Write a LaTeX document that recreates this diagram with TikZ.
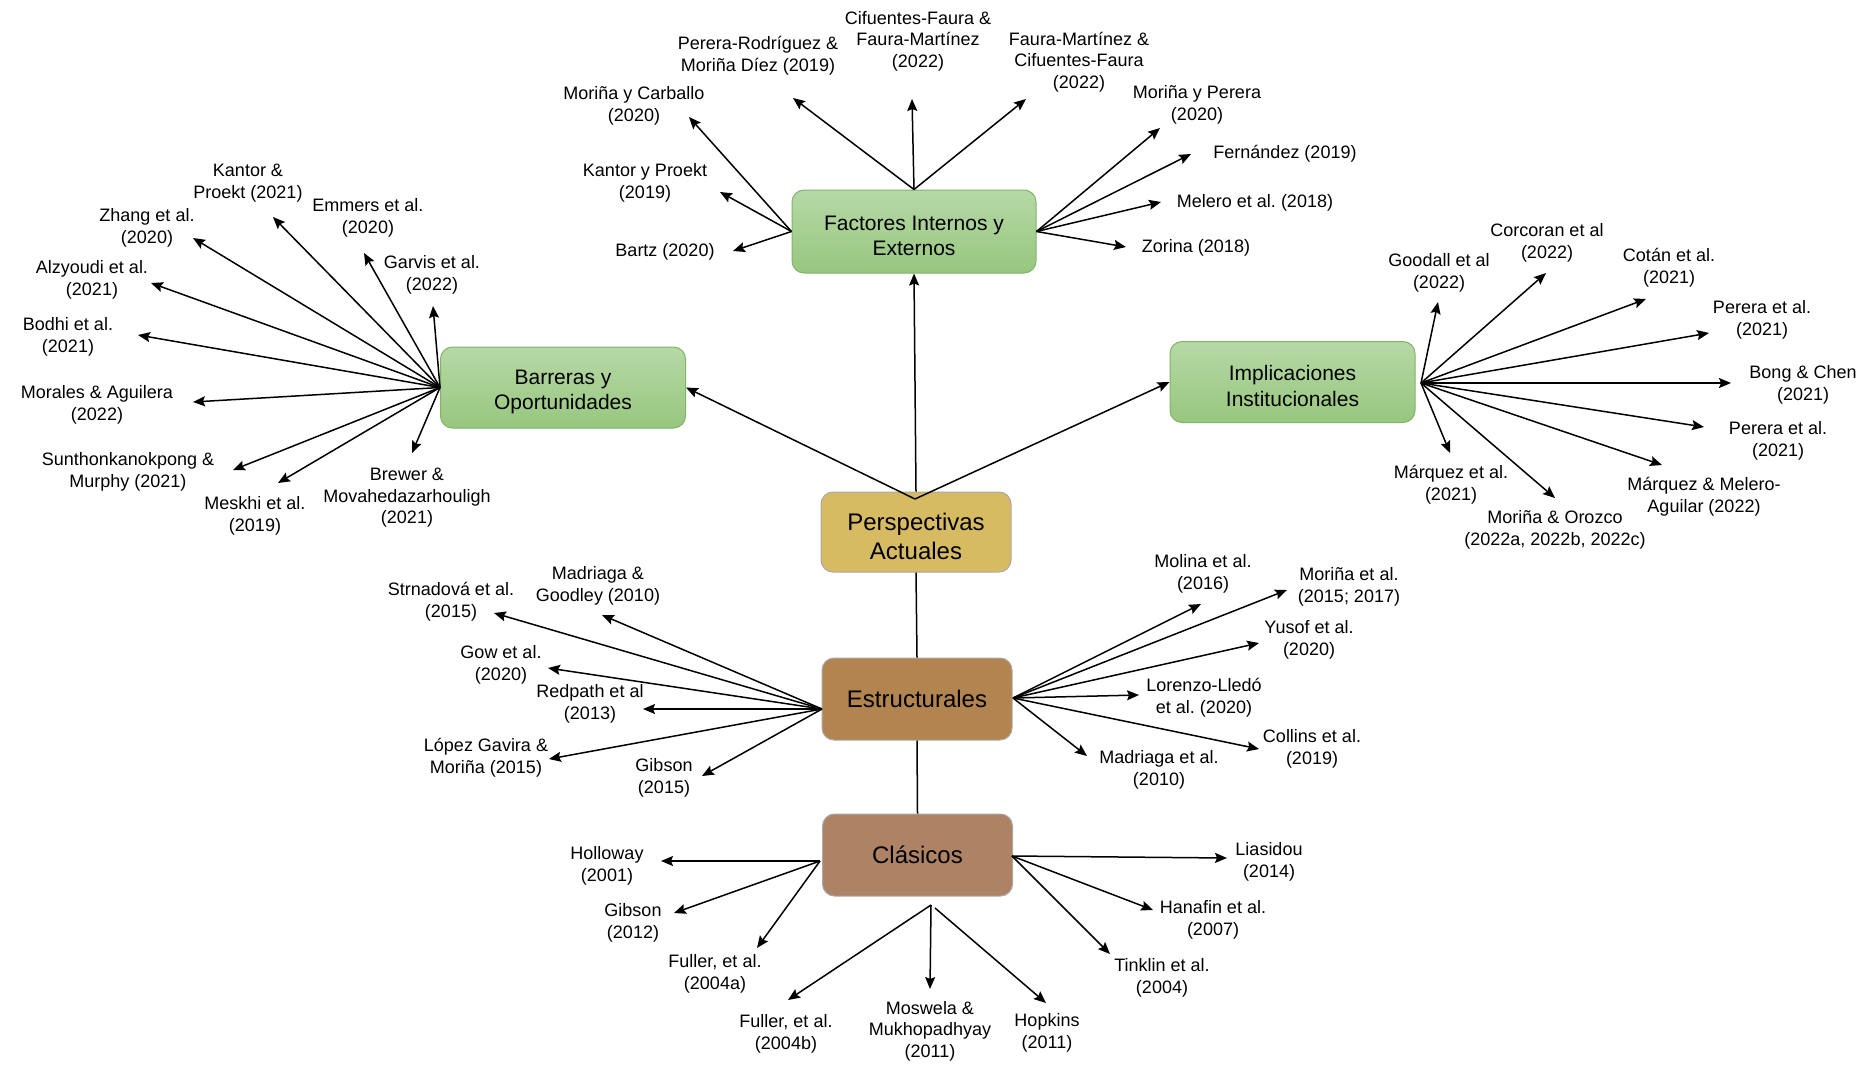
\documentclass[tikz,border=0pt]{standalone}
\usepackage{fontspec}
\setmainfont{Liberation Sans}
\usetikzlibrary{arrows.meta}
\definecolor{gtop}{HTML}{B6D8A6}
\definecolor{gbot}{HTML}{97C77E}
\definecolor{gline}{HTML}{82B366}
\definecolor{cper}{HTML}{D7BB63}
\definecolor{cest}{HTML}{B2844F}
\definecolor{ccla}{HTML}{AD8265}
\definecolor{gborder}{HTML}{A8A8A8}
\newcommand{\gstrut}{\rule{0pt}{23pt}}
\newcommand{\pstrut}{\rule{0pt}{26.5pt}}
\tikzset{
  lbl/.style={align=center, font=\fontsize{18}{21.6}\selectfont\frenchspacing, inner sep=0pt},
  arr/.style={-{Stealth[length=12pt,width=10pt,inset=2pt]}, line width=1.5pt},
  ln/.style={line width=1.5pt},
  mainbox/.style={rounded corners=12pt, line width=1pt, align=center, inner sep=0pt},
  greenbox/.style={mainbox, draw=gline, top color=gtop, bottom color=gbot,
    minimum width=245pt, minimum height=81pt, font=\fontsize{21}{25.5}\selectfont},
  brownbox/.style={mainbox, draw=gborder, minimum width=190pt, minimum height=82pt,
    font=\fontsize{24}{28.8}\selectfont},
}
\begin{document}
\frenchspacing
\begin{tikzpicture}[x=1pt,y=-1pt]
\useasboundingbox (0,0) rectangle (1876,1074);
\fill[white] (0,0) rectangle (1876,1074);

% main boxes
\node[greenbox, minimum width=244pt, minimum height=83pt] (fac) at (914,231.5) {\gstrut Factores Internos y\\Externos};
\node[greenbox] (bar) at (563,387.5) {\gstrut Barreras y\\Oportunidades};
\node[greenbox] (imp) at (1292.5,382) {\gstrut Implicaciones\\Institucionales};
\node[brownbox, fill=cper, minimum height=80pt] (per) at (916,532) {\pstrut Perspectivas\\Actuales};
\node[brownbox, fill=cest] (est) at (917,699) {Estructurales};
\node[brownbox, fill=ccla] (cla) at (917.5,855) {Clásicos};

% origin coordinates
\coordinate (perV) at (915,499);
\coordinate (impR) at (1421,383);
\coordinate (estL) at (822,709);
\coordinate (estR) at (1013,698);
\coordinate (claL) at (820,861);
\coordinate (claR) at (1012,856);
\coordinate (claB) at (931,905);
\coordinate (claB2) at (935,908);

% main connectors
\draw[arr] (per.north) -- (fac.south);
\draw[arr] (perV) -- (bar.east);
\draw[arr] (perV) -- (imp.west);
\draw[ln] (per.south) -- (est.north);
\draw[ln] (est.south) -- (cla.north);

% ---------- Factores ----------
\node[lbl] (fa1) at (665,252) {Bartz (2020)};
\node[lbl] (fa2) at (645,183) {Kantor y Proekt\\(2019)};
\node[lbl] (fa3) at (634,106) {Moriña y Carballo\\(2020)};
\node[lbl] (fa4) at (758,56) {Perera-Rodríguez \&\\Moriña Díez (2019)};
\node[lbl] (fa5) at (918,41) {Cifuentes-Faura \&\\Faura-Martínez\\(2022)};
\node[lbl] (fa6) at (1079,62) {Faura-Martínez \&\\Cifuentes-Faura\\(2022)};
\node[lbl] (fa7) at (1197,105) {Moriña y Perera\\(2020)};
\node[lbl] (fa8) at (1285,154) {Fernández (2019)};
\node[lbl] (fa9) at (1255,203) {Melero et al. (2018)};
\node[lbl] (fa10) at (1196,248) {Zorina (2018)};
\coordinate (tfa1) at (733,251);
\coordinate (tfa2) at (720,192);
\coordinate (tfa3) at (689,117);
\coordinate (tfa4) at (793,98);
\coordinate (tfa5) at (912,99);
\coordinate (tfa6) at (1026,99);
\coordinate (tfa7) at (1160,128);
\coordinate (tfa8) at (1191,154);
\coordinate (tfa9) at (1161,202);
\coordinate (tfa10) at (1126,247);
\foreach \t in {tfa1,tfa2,tfa3} \draw[arr] (fac.west) -- (\t);
\foreach \t in {tfa4,tfa5,tfa6} \draw[arr] (fac.north) -- (\t);
\foreach \t in {tfa7,tfa8,tfa9,tfa10} \draw[arr] (fac.east) -- (\t);

% ---------- Barreras ----------
\node[lbl] (ba1) at (248,183) {Kantor \&\\Proekt (2021)};
\node[lbl] (ba2) at (147,228) {Zhang et al.\\(2020)};
\node[lbl] (ba3) at (368,218) {Emmers et al.\\(2020)};
\node[lbl] (ba4) at (432,275) {Garvis et al.\\(2022)};
\node[lbl] (ba5) at (92,280) {Alzyoudi et al.\\(2021)};
\node[lbl] (ba6) at (68,337) {Bodhi et al.\\(2021)};
\node[lbl] (ba7) at (97,405) {Morales \& Aguilera\\(2022)};
\node[lbl] (ba8) at (128,472) {Sunthonkanokpong \&\\Murphy (2021)};
\node[lbl] (ba9) at (255,516) {Meskhi et al.\\(2019)};
\node[lbl] (ba10) at (407,498) {Brewer \&\\Movahedazarhouligh\\(2021)};
\coordinate (tba1) at (273,217);
\coordinate (tba2) at (193,238);
\coordinate (tba3) at (364,253);
\coordinate (tba4) at (433,306);
\coordinate (tba5) at (151,283);
\coordinate (tba6) at (138,335);
\coordinate (tba7) at (193,402);
\coordinate (tba8) at (233,470);
\coordinate (tba9) at (278,483);
\coordinate (tba10) at (412,453);
\foreach \t in {tba1,tba2,tba3,tba4,tba5,tba6,tba7,tba8,tba9,tba10} \draw[arr] (bar.west) -- (\t);

% ---------- Implicaciones ----------
\node[lbl] (im1) at (1439,273) {Goodall et al\\(2022)};
\node[lbl] (im2) at (1547,243) {Corcoran et al\\(2022)};
\node[lbl] (im3) at (1669,268) {Cotán et al.\\(2021)};
\node[lbl] (im4) at (1762,320) {Perera et al.\\(2021)};
\node[lbl] (im5) at (1803,385) {Bong \& Chen\\(2021)};
\node[lbl] (im6) at (1778,441) {Perera et al.\\(2021)};
\node[lbl] (im7) at (1704,497) {Márquez \& Melero-\\Aguilar (2022)};
\node[lbl] (im8) at (1555,530) {Moriña \& Orozco\\(2022a, 2022b, 2022c)};
\node[lbl] (im9) at (1451,485) {Márquez et al.\\(2021)};
\coordinate (tim1) at (1438,302);
\coordinate (tim2) at (1546,273);
\coordinate (tim3) at (1646,299);
\coordinate (tim4) at (1709,333);
\coordinate (tim5) at (1731,383);
\coordinate (tim6) at (1704,427);
\coordinate (tim7) at (1662,465);
\coordinate (tim8) at (1555,498);
\coordinate (tim9) at (1450,453);
\foreach \t in {tim1,tim2,tim3,tim4,tim5,tim6,tim7,tim8,tim9} \draw[arr] (impR) -- (\t);

% ---------- Estructurales ----------
\node[lbl] (es1) at (451,602) {Strnadová et al.\\(2015)};
\node[lbl] (es2) at (598,586) {Madriaga \&\\Goodley (2010)};
\node[lbl] (es3) at (501,665) {Gow et al.\\(2020)};
\node[lbl] (es4) at (590,704) {Redpath et al\\(2013)};
\node[lbl] (es5) at (486,758) {López Gavira \&\\Moriña (2015)};
\node[lbl] (es6) at (664,778) {Gibson\\(2015)};
\node[lbl] (es7) at (1203,574) {Molina et al.\\(2016)};
\node[lbl] (es8) at (1349,587) {Moriña et al.\\(2015; 2017)};
\node[lbl] (es9) at (1309,640) {Yusof et al.\\(2020)};
\node[lbl] (es10) at (1204,698) {Lorenzo-Lledó\\et al. (2020)};
\node[lbl] (es11) at (1312,749) {Collins et al.\\(2019)};
\node[lbl] (es12) at (1159,770) {Madriaga et al.\\(2010)};
\coordinate (tes1) at (494,613);
\coordinate (tes2) at (602,615);
\coordinate (tes3) at (548,668);
\coordinate (tes4) at (643,709);
\coordinate (tes5) at (549,759);
\coordinate (tes6) at (702,776);
\coordinate (tes7) at (1201,604);
\coordinate (tes8) at (1287,590);
\coordinate (tes9) at (1259,643);
\coordinate (tes10) at (1139,695);
\coordinate (tes11) at (1259,749);
\coordinate (tes12) at (1087,756);
\foreach \t in {tes1,tes2,tes3,tes4,tes5,tes6} \draw[arr] (estL) -- (\t);
\foreach \t in {tes7,tes8,tes9,tes10,tes11,tes12} \draw[arr] (estR) -- (\t);

% ---------- Clasicos ----------
\node[lbl] (cl1) at (607,866) {Holloway\\(2001)};
\node[lbl] (cl2) at (633,923) {Gibson\\(2012)};
\node[lbl] (cl3) at (715,974) {Fuller, et al.\\(2004a)};
\node[lbl] (cl4) at (786,1034) {Fuller, et al.\\(2004b)};
\node[lbl] (cl5) at (930,1031) {Moswela \&\\Mukhopadhyay\\(2011)};
\node[lbl] (cl6) at (1047,1033) {Hopkins\\(2011)};
\node[lbl] (cl7) at (1162,978) {Tinklin et al.\\(2004)};
\node[lbl] (cl8) at (1213,920) {Hanafin et al.\\(2007)};
\node[lbl] (cl9) at (1269,862) {Liasidou\\(2014)};
\coordinate (tcl1) at (661,861);
\coordinate (tcl2) at (674,913);
\coordinate (tcl3) at (757,948);
\coordinate (tcl4) at (788,1000);
\coordinate (tcl5) at (930,989);
\coordinate (tcl6) at (1046,1003);
\coordinate (tcl7) at (1110,954);
\coordinate (tcl8) at (1153,910);
\coordinate (tcl9) at (1227,858);
\foreach \t in {tcl1,tcl2,tcl3} \draw[arr] (claL) -- (\t);
\foreach \t in {tcl4,tcl5} \draw[arr] (claB) -- (\t);
\draw[arr] (claB2) -- (tcl6);
\foreach \t in {tcl7,tcl8,tcl9} \draw[arr] (claR) -- (\t);
\end{tikzpicture}
\end{document}
